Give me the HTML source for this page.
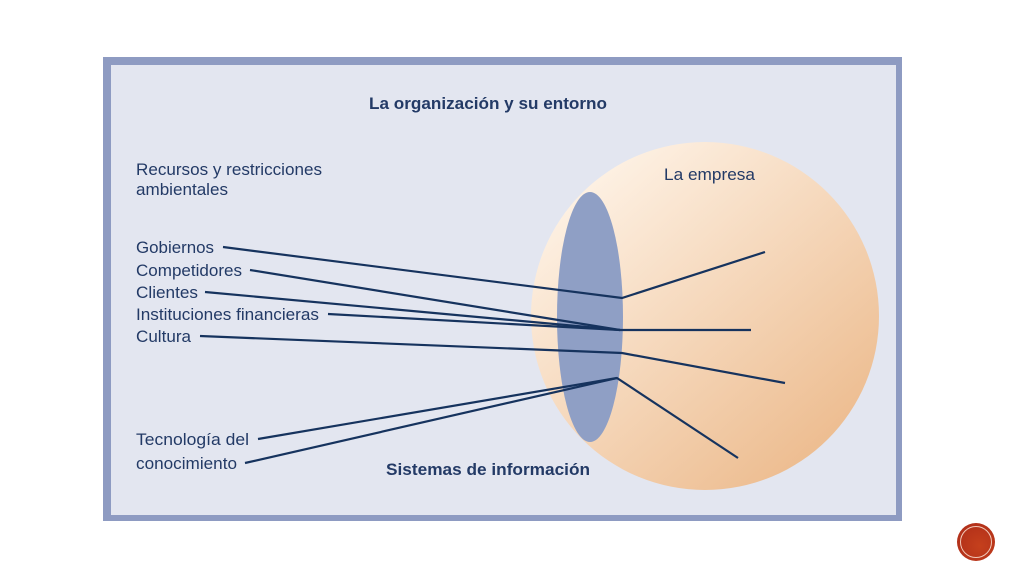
<!DOCTYPE html>
<html><head><meta charset="utf-8"><style>
html,body{margin:0;padding:0;background:#fff;width:1024px;height:576px;overflow:hidden}
</style></head><body>
<svg width="1024" height="576" viewBox="0 0 1024 576" xmlns="http://www.w3.org/2000/svg" font-family="Liberation Sans, sans-serif">
<defs>
<linearGradient id="g" x1="0.2" y1="0.1" x2="0.9" y2="0.9">
<stop offset="0" stop-color="#fdf0e2"/><stop offset="1" stop-color="#ecba8c"/>
</linearGradient>
<radialGradient id="r" cx="0.6" cy="0.6" r="0.6"><stop offset="0" stop-color="#c5401c"/><stop offset="1" stop-color="#b3311a"/></radialGradient>
</defs>
<rect x="103" y="57" width="799" height="464" fill="#8e9bc2"/>
<rect x="111" y="65" width="785" height="450" fill="#e3e6f0"/>
<circle cx="705" cy="316" r="174" fill="url(#g)"/>
<ellipse cx="590" cy="317" rx="33" ry="125" fill="#8f9fc5"/>
<g stroke="#16335e" stroke-width="2.2" fill="none">
<polyline points="223,247 622,298 765,252"/>
<polyline points="250,270 620,330"/>
<polyline points="205,292 620,330"/>
<polyline points="328,314 620,330 751,330"/>
<polyline points="200,336 622,353 785,383"/>
<polyline points="258,439 617,378"/>
<polyline points="245,463 617,378 738,458"/>
</g>
<g fill="#233a66" font-size="16.5">
<text x="369" y="109" font-weight="bold" font-size="16.5" textLength="238" lengthAdjust="spacingAndGlyphs">La organización y su entorno</text>
<text x="136" y="175" textLength="186" lengthAdjust="spacingAndGlyphs">Recursos y restricciones</text>
<text x="136" y="195" textLength="92" lengthAdjust="spacingAndGlyphs">ambientales</text>
<text x="136" y="253" textLength="78" lengthAdjust="spacingAndGlyphs">Gobiernos</text>
<text x="136" y="276" textLength="106" lengthAdjust="spacingAndGlyphs">Competidores</text>
<text x="136" y="298" textLength="62" lengthAdjust="spacingAndGlyphs">Clientes</text>
<text x="136" y="320" textLength="183" lengthAdjust="spacingAndGlyphs">Instituciones financieras</text>
<text x="136" y="342" textLength="55" lengthAdjust="spacingAndGlyphs">Cultura</text>
<text x="136" y="445" textLength="113" lengthAdjust="spacingAndGlyphs">Tecnología del</text>
<text x="136" y="469" textLength="101" lengthAdjust="spacingAndGlyphs">conocimiento</text>
<text x="664" y="180" textLength="91" lengthAdjust="spacingAndGlyphs">La empresa</text>
<text x="386" y="475" font-weight="bold" textLength="204" lengthAdjust="spacingAndGlyphs">Sistemas de información</text>
</g>
<circle cx="976" cy="542" r="19" fill="url(#r)"/>
<circle cx="976" cy="542" r="15.5" fill="none" stroke="#f1c8b8" stroke-width="1"/>
</svg>
</body></html>
